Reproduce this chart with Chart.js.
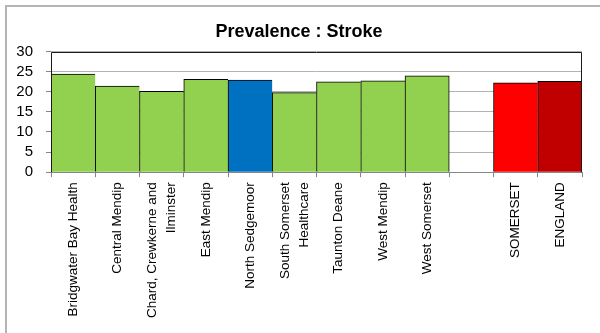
<!DOCTYPE html>
<html lang="en">
<head>
    <meta charset="UTF-8">
    <title>Prevalence : Stroke</title>
    <script src="https://cdn.jsdelivr.net/npm/chart.js"></script>
    <style>
        body {
            margin: 0;
            background: #fff;
            overflow: hidden;
        }
        .chart-wrap {
            position: relative;
            width: 600px;
            height: 333px;
        }
        .frame {
            position: absolute;
            left: 5px;
            top: 5px;
            width: 640px;
            height: 360px;
            border-left: 2px solid #b4b4b4;
            border-top: 2px solid #b4b4b4;
            pointer-events: none;
        }
    </style>
</head>
<body>

    <div class="chart-wrap">
        <canvas id="strokeChart" width="600" height="333"></canvas>
        <div class="frame"></div>
    </div>

    <script>
        // Practices plus the county and national comparators (blank slot = spacer)
        const practices = [
            'Bridgwater Bay Health',
            'Central Mendip',
            ['Chard, Crewkerne and', 'Ilminster'],
            'East Mendip',
            'North Sedgemoor',
            ['South Somerset', 'Healthcare'],
            'Taunton Deane',
            'West Mendip',
            'West Somerset',
            '',
            'SOMERSET',
            'ENGLAND'
        ];
        const prevalence = [24.4, 21.4, 20.1, 23.1, 22.9, 19.8, 22.5, 22.7, 24.0, null, 22.2, 22.6];
        const barColours = [
            '#92D050', '#92D050', '#92D050', '#92D050', '#0070C0',
            '#92D050', '#92D050', '#92D050', '#92D050', '#ffffff',
            '#FF0000', '#C00000'
        ];
        const yTicks = [0, 5, 10, 15, 20, 25, 30];

        const FONT = "'Liberation Sans', Arial, sans-serif";
        const X_FONT_SIZE = 13.5;
        const X_LINE_HEIGHT = 1.42;

        // plot area outline drawn over the bars
        const plotFrame = {
            id: 'plotFrame',
            beforeDraw(chart) {
                // centre two-line category labels on their tick (Chart.js puts line 1 on it)
                const sx = chart.scales.x;
                const lh = X_FONT_SIZE * X_LINE_HEIGHT;
                sx.getLabelItems().forEach(item => {
                    if (Array.isArray(item.label) && !item._centred) {
                        item.options.translation[0] -= lh / 2;
                        item._centred = true;
                    }
                });
            },
            afterDatasetsDraw(chart) {
                const { ctx, chartArea: a } = chart;
                ctx.save();
                ctx.lineWidth = 1;
                ctx.strokeStyle = '#868686';
                ctx.beginPath();
                ctx.moveTo(a.left, Math.round(a.bottom) + 0.5);
                ctx.lineTo(a.right, Math.round(a.bottom) + 0.5);
                ctx.stroke();
                ctx.strokeStyle = '#1a1a1a';
                ctx.beginPath();
                ctx.moveTo(Math.round(a.left) + 0.5, a.bottom);
                ctx.lineTo(Math.round(a.left) + 0.5, Math.round(a.top) + 0.5);
                ctx.lineTo(Math.round(a.right) - 0.5, Math.round(a.top) + 0.5);
                ctx.lineTo(Math.round(a.right) - 0.5, a.bottom);
                ctx.stroke();
                ctx.restore();
            }
        };

        const ctx = document.getElementById('strokeChart').getContext('2d');
        new Chart(ctx, {
            type: 'bar',
            data: {
                labels: practices,
                datasets: [{
                    data: prevalence,
                    backgroundColor: barColours,
                    borderColor: '#000000',
                    borderWidth: (c) => {
                        const next = prevalence[c.dataIndex + 1];
                        return { top: 1, left: 1, right: next == null ? 1 : 0, bottom: 0 };
                    },
                    borderSkipped: false,
                    categoryPercentage: 1.0,
                    barPercentage: 1.0
                }]
            },
            options: {
                responsive: false,
                animation: false,
                layout: {
                    padding: { left: 16, right: 18, top: 0, bottom: 10 }
                },
                plugins: {
                    legend: { display: false },
                    tooltip: { enabled: false },
                    title: {
                        display: true,
                        text: 'Prevalence : Stroke',
                        color: '#000',
                        font: { family: FONT, size: 18, weight: 'bold' },
                        padding: { top: 21, bottom: 9 }
                    }
                },
                scales: {
                    x: {
                        grid: {
                            drawOnChartArea: false,
                            drawTicks: true,
                            tickLength: 5,
                            color: '#868686'
                        },
                        border: { display: false },
                        ticks: {
                            autoSkip: false,
                            minRotation: 90,
                            maxRotation: 90,
                            padding: 5,
                            color: '#000',
                            font: { family: FONT, size: X_FONT_SIZE, lineHeight: X_LINE_HEIGHT }
                        },
                        afterFit: (scale) => {
                            scale.paddingLeft = 0;
                            scale.paddingRight = 0;
                        }
                    },
                    y: {
                        min: 0,
                        max: 30,
                        grid: {
                            color: '#b3b3b3',
                            tickLength: 5,
                            tickColor: '#868686'
                        },
                        border: { display: false },
                        ticks: {
                            autoSkip: false,
                            padding: 13,
                            color: '#000',
                            font: { family: FONT, size: 15 }
                        },
                        afterBuildTicks: (scale) => {
                            scale.ticks = yTicks.map(v => ({ value: v }));
                        },
                        afterFit: (scale) => {
                            scale.width = 35;
                            scale.paddingTop = 0;
                            scale.paddingBottom = 0;
                        }
                    }
                }
            },
            plugins: [plotFrame]
        });
    </script>
</body>
</html>
